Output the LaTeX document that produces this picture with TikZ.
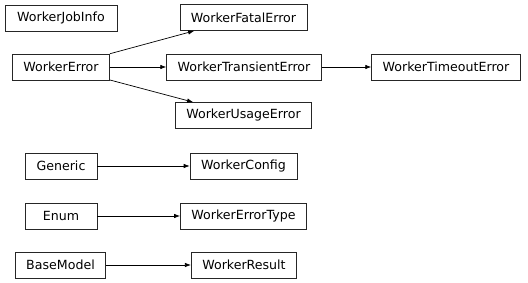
\documentclass[tikz,border=0pt]{standalone}
\usepackage{fontspec}
\setmainfont{DejaVu Sans}
\usepackage{tikz}
\usetikzlibrary{arrows.meta,positioning}
\tikzset{cls/.style={draw=black!85,line width=0.8pt,inner xsep=11pt,inner ysep=0pt,minimum height=26pt},
  inh/.style={-{Latex[length=6pt,width=4.5pt]},line width=0.7pt}}

\begin{document}
\begin{tikzpicture}[x=1pt,y=-1pt,font=\fontsize{12.6}{15}\selectfont]
\useasboundingbox (0,0) rectangle (528,283);
% exceptions
\node[cls,minimum width=112pt] (jobinfo) at (61,18) {WorkerJobInfo};
\node[cls] (err) at (61,67) {WorkerError};
\node[cls] (fatal) at (243.5,17.5) {WorkerFatalError};
\node[cls] (trans) at (244,67) {WorkerTransientError};
\node[cls] (tmo) at (446,67) {WorkerTimeoutError};
\node[cls] (usage) at (243.5,115.5) {WorkerUsageError};
\draw[inh] (err) -- (fatal);
\draw[inh] (err) -- (trans);
\draw[inh] (trans) -- (tmo);
\draw[inh] (err) -- (usage);
% other bases
\node[cls,minimum width=72pt] (generic) at (61,166) {Generic};
\node[cls] (config) at (243.5,166) {WorkerConfig};
\node[cls,minimum width=72pt] (enum) at (61,216) {Enum};
\node[cls] (etype) at (243.5,216) {WorkerErrorType};
\node[cls] (basemodel) at (60.5,265) {BaseModel};
\node[cls] (result) at (244,265) {WorkerResult};
\draw[inh] (generic) -- (config);
\draw[inh] (enum) -- (etype);
\draw[inh] (basemodel) -- (result);
\end{tikzpicture}
\end{document}
